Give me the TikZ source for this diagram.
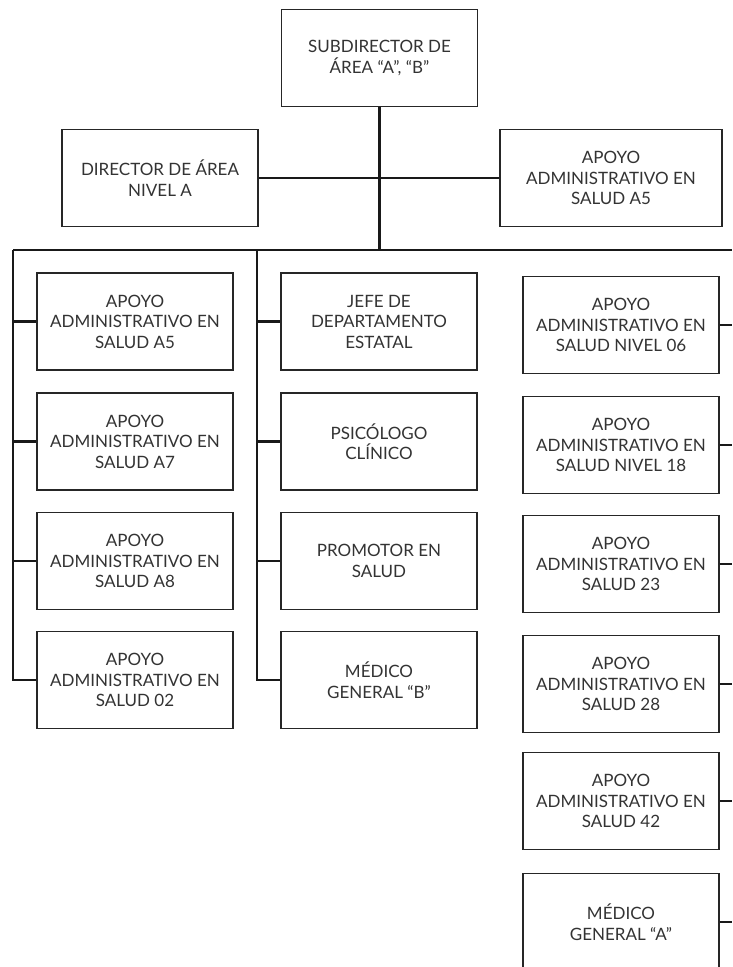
\documentclass[tikz,border=0pt]{standalone}
\usepackage{fontspec}
\setmainfont{Lato}
\begin{document}
\begin{tikzpicture}[x=1pt,y=-1pt,
  box/.style={draw=black!85, line width=1.3pt, fill=white, align=center,
    text=black!80, font=\fontsize{17}{20.5}\selectfont,
    minimum width=196pt, minimum height=97pt, inner sep=2pt},
  wide/.style={box, minimum width=222pt},
  link/.style={draw=black!90, line width=2.4pt}]
\useasboundingbox (0,0) rectangle (732,967);
\fill[white] (0,0) rectangle (732,967);

% top level
\node[box] (sub) at (379.5,58) {SUBDIRECTOR DE\\ÁREA “A”, “B”};
\node[box] (dir) at (160,178) {DIRECTOR DE ÁREA\\NIVEL A};
\node[wide] (apt) at (611,178) {APOYO\\ADMINISTRATIVO EN\\SALUD A5};

% left column
\node[box] (l1) at (135,321.5) {APOYO\\ADMINISTRATIVO EN\\SALUD A5};
\node[box] (l2) at (135,441.5) {APOYO\\ADMINISTRATIVO EN\\SALUD A7};
\node[box] (l3) at (135,561) {APOYO\\ADMINISTRATIVO EN\\SALUD A8};
\node[box] (l4) at (135,680) {APOYO\\ADMINISTRATIVO EN\\SALUD 02};

% middle column
\node[box] (m1) at (379,321.5) {JEFE DE\\DEPARTAMENTO\\ESTATAL};
\node[box] (m2) at (379,441.5) {PSICÓLOGO\\CLÍNICO};
\node[box] (m3) at (379,561) {PROMOTOR EN\\SALUD};
\node[box] (m4) at (379,680) {MÉDICO\\GENERAL “B”};

% right column
\node[box] (r1) at (621,325) {APOYO\\ADMINISTRATIVO EN\\SALUD NIVEL 06};
\node[box] (r2) at (621,445) {APOYO\\ADMINISTRATIVO EN\\SALUD NIVEL 18};
\node[box] (r3) at (621,564) {APOYO\\ADMINISTRATIVO EN\\SALUD 23};
\node[box] (r4) at (621,684) {APOYO\\ADMINISTRATIVO EN\\SALUD 28};
\node[box] (r5) at (621,801) {APOYO\\ADMINISTRATIVO EN\\SALUD 42};
\node[box] (r6) at (621,922) {MÉDICO\\GENERAL “A”};

% bus and rails
\coordinate (bus) at (379.5,250);
\coordinate (busL) at (13,250);
\coordinate (busM) at (257,250);
\coordinate (busR) at (732,250);
\coordinate (railR) at (732,0);

\draw[link] (sub.south) -- (bus);
\draw[link] (dir.east) -- (apt.west);
\draw[link] (busL) -- (busR);
\draw[link] (busL) |- (l4.west);
\draw[link] (busM) |- (m4.west);
\foreach \n in {l1,l2,l3} \draw[link] (busL |- \n.west) -- (\n.west);
\foreach \n in {m1,m2,m3} \draw[link] (busM |- \n.west) -- (\n.west);
\foreach \n in {r1,r2,r3,r4,r5,r6} \draw[link] (\n.east) -- (railR |- \n.east);
\end{tikzpicture}
\end{document}
